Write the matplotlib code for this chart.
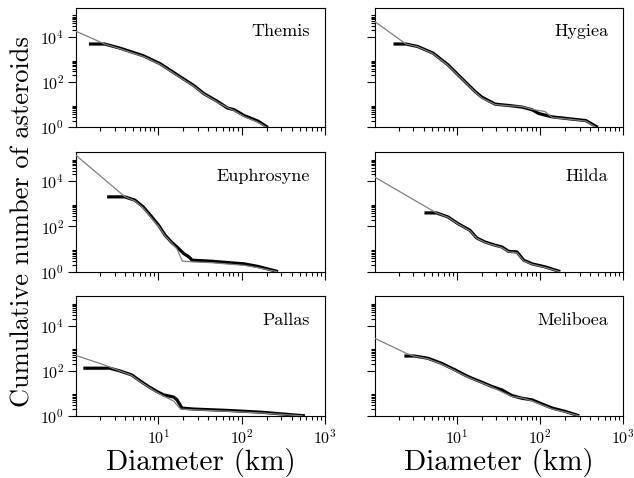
import numpy as np
import matplotlib
matplotlib.use("Agg")
import matplotlib.pyplot as plt
from matplotlib.ticker import FixedLocator, NullFormatter

plt.rcParams['font.family'] = 'serif'
plt.rcParams['font.serif'] = ['cmr10', 'DejaVu Serif']
plt.rcParams['mathtext.fontset'] = 'cm'
plt.rcParams['axes.formatter.use_mathtext'] = True
plt.rcParams['axes.unicode_minus'] = False

families = ["Themis", "Hygiea", "Euphrosyne", "Hilda", "Pallas", "Meliboea"]

# observed cumulative distributions (black)
themis_d = [1.47, 2.27, 3.45, 6.62, 10.5, 16.8, 26.7, 35.4, 51.3, 67.8, 81.7, 108, 157, 207]
themis_n = [4900, 4900, 3240, 1480, 660, 214, 71, 31, 14.1, 7.2, 6.0, 3.3, 1.9, 1.0]
hygiea_d = [1.74, 2.46, 3.40, 5.18, 7.85, 11.4, 16.6, 20.0, 28.9, 42.0, 61.0, 80.5, 96.8, 141, 224, 356, 494]
hygiea_n = [4900, 4900, 3800, 1950, 590, 151, 38.9, 21.9, 10.7, 9.3, 7.9, 6.0, 4.1, 2.9, 2.4, 2.0, 1.0]
euphrosyne_d = [2.43, 3.96, 5.25, 6.62, 8.36, 10.1, 12.1, 14.6, 16.8, 20.2, 23.3, 25.5, 42.6, 108, 157, 274]
euphrosyne_n = [2040, 2040, 1450, 724, 263, 112, 40.7, 19.1, 12.3, 6.3, 4.5, 3.2, 2.9, 2.2, 1.7, 1.0]
hilda_d = [4.10, 5.69, 7.85, 10.4, 14.4, 17.4, 21.9, 28.9, 34.9, 42.0, 53.0, 63.7, 80.5, 117, 175]
hilda_n = [398, 398, 263, 132, 67.6, 30.9, 20.4, 14.8, 12.3, 7.9, 7.4, 3.2, 2.2, 1.6, 1.0]
pallas_d = [1.26, 2.61, 3.45, 4.79, 6.03, 7.62, 9.62, 11.6, 15.3, 16.8, 19.3, 26.7, 67.8, 172, 577]
pallas_n = [129, 129, 98, 65, 35.5, 20, 12, 8.5, 6.8, 5.1, 2.2, 2.0, 1.74, 1.45, 1.0]
meliboea_d = [2.35, 3.10, 4.50, 6.53, 9.48, 12.5, 15.1, 20.0, 26.4, 34.9, 46.1, 61.0, 80.5, 107, 141, 204, 296]
meliboea_n = [447, 447, 355, 214, 110, 64.6, 46.8, 30.9, 20.0, 14.1, 7.9, 6.0, 5.1, 3.3, 2.2, 1.55, 1.0]

# model distributions (gray)
themis_md = [1.03, 2.27, 3.45, 6.62, 10.5, 16.8, 26.7, 35.4, 51.3, 67.8, 81.7, 108, 157, 200]
themis_mn = [18000, 4900, 3050, 1380, 620, 200, 66, 30, 13, 7.5, 5.5, 3.0, 1.7, 1.0]
hygiea_md = [1.03, 2.46, 3.40, 5.18, 7.85, 11.4, 16.6, 20.0, 28.9, 42.0, 61.0, 80.5, 115, 141, 224, 356, 470]
hygiea_mn = [49000, 4900, 3700, 1850, 560, 145, 37, 20, 10.3, 9.0, 8.3, 6.3, 5.0, 2.7, 2.3, 1.9, 1.0]
euphrosyne_md = [1.03, 3.96, 5.25, 6.62, 8.36, 10.1, 12.1, 14.6, 16.8, 19.5, 25.5, 42.6, 108, 157, 265]
euphrosyne_mn = [140000, 2100, 1350, 650, 230, 100, 38, 18, 10, 2.9, 2.7, 2.5, 1.9, 1.5, 1.0]
hilda_md = [1.03, 5.69, 7.85, 10.4, 14.4, 17.4, 21.9, 28.9, 34.9, 42.0, 53.0, 63.7, 80.5, 117, 170]
hilda_mn = [15500, 398, 255, 128, 64, 30, 19.5, 14.2, 11.5, 7.5, 6.8, 3.0, 2.1, 1.5, 1.0]
pallas_md = [1.03, 2.20, 2.90, 3.45, 4.79, 6.03, 7.62, 9.62, 11.6, 15.3, 18.5, 26.7, 67.8, 172, 540]
pallas_mn = [470, 185, 125, 98, 62, 33, 19, 11, 7.5, 4.5, 2.0, 1.85, 1.6, 1.35, 1.0]
meliboea_md = [1.03, 2.58, 3.10, 4.50, 6.53, 9.48, 12.5, 15.1, 20.0, 26.4, 34.9, 46.1, 61.0, 80.5, 107, 141, 204, 290]
meliboea_mn = [2750, 550, 440, 335, 200, 102, 60, 44, 29, 19, 11.5, 7.2, 6.2, 4.6, 3.0, 2.0, 1.45, 1.0]

obs = [(themis_d, themis_n), (hygiea_d, hygiea_n), (euphrosyne_d, euphrosyne_n),
       (hilda_d, hilda_n), (pallas_d, pallas_n), (meliboea_d, meliboea_n)]
mod = [(themis_md, themis_mn), (hygiea_md, hygiea_mn), (euphrosyne_md, euphrosyne_mn),
       (hilda_md, hilda_mn), (pallas_md, pallas_mn), (meliboea_md, meliboea_mn)]

fig, axes = plt.subplots(3, 2, figsize=(6.34, 4.78), dpi=100, sharex=True, sharey=True)
fig.subplots_adjust(left=0.12, right=0.983, bottom=0.13, top=0.984, wspace=0.2, hspace=0.205)

y_minor = [s * 10.0 ** e for e in (0, 2, 4) for s in range(2, 10)]

for i, ax in enumerate(axes.flat):
    d, n = obs[i]
    md, mn = mod[i]
    ax.plot(d, n, color='black', lw=2.3, solid_capstyle='butt', zorder=2)
    ax.plot(md, mn, color='#808080', lw=0.9, zorder=3)
    ax.set_xscale('log')
    ax.set_yscale('log')
    ax.set_xlim(1.03, 1000)
    ax.set_ylim(1, 2.0e5)
    ax.yaxis.set_major_locator(FixedLocator([1, 1e2, 1e4]))
    ax.yaxis.set_minor_locator(FixedLocator(y_minor))
    ax.yaxis.set_minor_formatter(NullFormatter())
    ax.xaxis.set_major_locator(FixedLocator([1, 10, 100, 1000]))
    ax.xaxis.set_minor_locator(FixedLocator([s * 10.0 ** e for e in (0, 1, 2) for s in range(2, 10)]))
    ax.xaxis.set_minor_formatter(NullFormatter())
    ax.tick_params(which='major', direction='out', length=5.5, width=0.8, labelsize=11.5, pad=3)
    ax.tick_params(which='minor', direction='out', length=3, width=0.8)
    ax.text(0.94, 0.80, families[i], transform=ax.transAxes, ha='right', va='center', fontsize=13)
    for sp in ax.spines.values():
        sp.set_linewidth(0.8)

for ax in axes[:, 1]:
    ax.tick_params(labelleft=False)
for ax in axes[2, :]:
    ax.set_xlabel('Diameter (km)', fontsize=21, labelpad=1)

fig.text(0.035, 0.537, 'Cumulative number of asteroids', rotation=90, ha='center', va='center', fontsize=19)

fig.savefig('out.png', dpi=100)
